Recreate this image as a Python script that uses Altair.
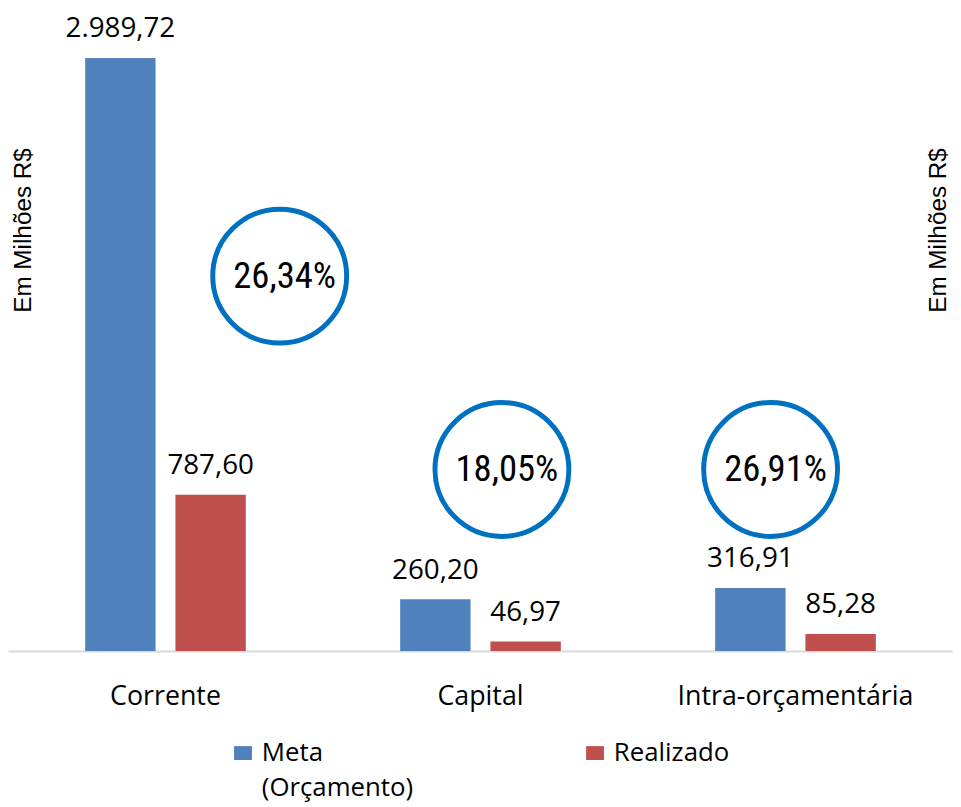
import altair as alt
import pandas as pd

# ---- data ----
categories = ["Corrente", "Capital", "Intra-orçamentária"]
series = ["Meta (Orçamento)", "Realizado"]
meta_values = [2989.72, 260.20, 316.91]
realizado_values = [787.60, 46.97, 85.28]
colors = ["#4F81BD", "#C0504D"]
axis_title = "Em Milhões R$"
# annotation anchors: x in category units (band i spans i..i+1), y in data units
circle_x = [0.8625, 1.568, 2.421]
circle_y = [1890, 915, 915]


def br(v):
    s = f"{v:,.2f}"
    return s.replace(",", "X").replace(".", ",").replace("X", ".")


rows = []
for c, m, r in zip(categories, meta_values, realizado_values):
    rows.append({"categoria": c, "serie": series[0], "valor": m, "rotulo": br(m)})
    rows.append({"categoria": c, "serie": series[1], "valor": r, "rotulo": br(r)})
df = pd.DataFrame(rows)

pct = [f"{r / m * 100:.2f}%".replace(".", ",") for m, r in zip(meta_values, realizado_values)]
ann = pd.DataFrame({"cx": circle_x, "cy": circle_y, "pct": pct})
side = pd.DataFrame({"t": [axis_title]})

yscale = alt.Scale(domain=[0, 3225], nice=False, zero=True)
xscale = alt.Scale(paddingInner=0, paddingOuter=0)
xoff = alt.XOffset("serie:N", sort=series,
                   scale=alt.Scale(paddingInner=0.22, paddingOuter=0.855))

x_axis = alt.X(
    "categoria:N", sort=categories, scale=xscale, title=None,
    axis=alt.Axis(labelAngle=0, ticks=False, domainColor="#d9d9d9", domainWidth=2,
                  labelFont="Open Sans", labelFontSize=27, labelColor="#000000",
                  labelPadding=33, labelLimit=0, grid=False),
)

bars = alt.Chart(df).mark_bar().encode(
    x=x_axis,
    xOffset=xoff,
    y=alt.Y("valor:Q", scale=yscale, axis=None),
    color=alt.Color(
        "serie:N", sort=series,
        scale=alt.Scale(domain=series, range=colors),
        legend=alt.Legend(
            title=None, orient="none", legendX=224, legendY=743,
            direction="horizontal", columns=2, columnPadding=170,
            symbolType="M-1,-1.67H1V-0.11H-1Z", symbolSize=324,
            symbolStrokeWidth=0,
            labelFont="Open Sans", labelFontSize=26, labelColor="#000000",
            labelBaseline="alphabetic", labelOffset=6, labelLimit=0,
            labelExpr="datum.label == 'Realizado' ? ['Realizado', ' '] : split(datum.label, ' ')",
            padding=0,
        ),
    ),
)

labels = alt.Chart(df).mark_text(
    font="Open Sans", fontSize=28, dy=-21, baseline="alphabetic", color="#000000"
).encode(
    x=alt.X("categoria:N", sort=categories, scale=xscale, title=None),
    xOffset=xoff,
    y=alt.Y("valor:Q", scale=yscale, axis=None),
    text="rotulo:N",
)

ann_x = alt.X("cx:Q", scale=alt.Scale(domain=[0, 3], nice=False, zero=False), axis=None)
ann_y = alt.Y("cy:Q", scale=yscale, axis=None)

circles = alt.Chart(ann).mark_point(
    shape="circle", size=135 * 135, filled=False, color="#0070C0",
    strokeWidth=5, opacity=1
).encode(x=ann_x, y=ann_y)

pct_text = alt.Chart(ann).mark_text(
    font="Roboto Condensed, Liberation Sans Narrow, Roboto", fontSize=37,
    fontWeight="normal", dx=5, dy=1, baseline="middle", color="#000000"
).encode(x=ann_x, y=ann_y, text="pct:N")

left_t = alt.Chart(side).mark_text(
    angle=270, font="Liberation Sans", fontSize=24.5, color="#000000", baseline="middle"
).encode(x=alt.value(16), y=alt.value(221), text="t:N")

right_t = alt.Chart(side).mark_text(
    angle=270, font="Liberation Sans", fontSize=24.5, color="#000000", baseline="middle"
).encode(x=alt.value(939), y=alt.value(221), text="t:N")

base = alt.layer(bars, labels)
anno = alt.layer(circles, pct_text)

chart = alt.layer(base, anno, left_t, right_t).resolve_scale(
    x="independent"
).properties(
    width=953, height=645,
    padding={"left": 0, "top": 0, "right": 0, "bottom": 154},
    autosize=alt.AutoSizeParams(type="none"),
).configure(
    style={"guide-label": {"lineHeight": 35}},
    view=alt.ViewConfig(stroke=None),
)

chart.save("out.html", embed_options={"renderer": "svg", "actions": False})
